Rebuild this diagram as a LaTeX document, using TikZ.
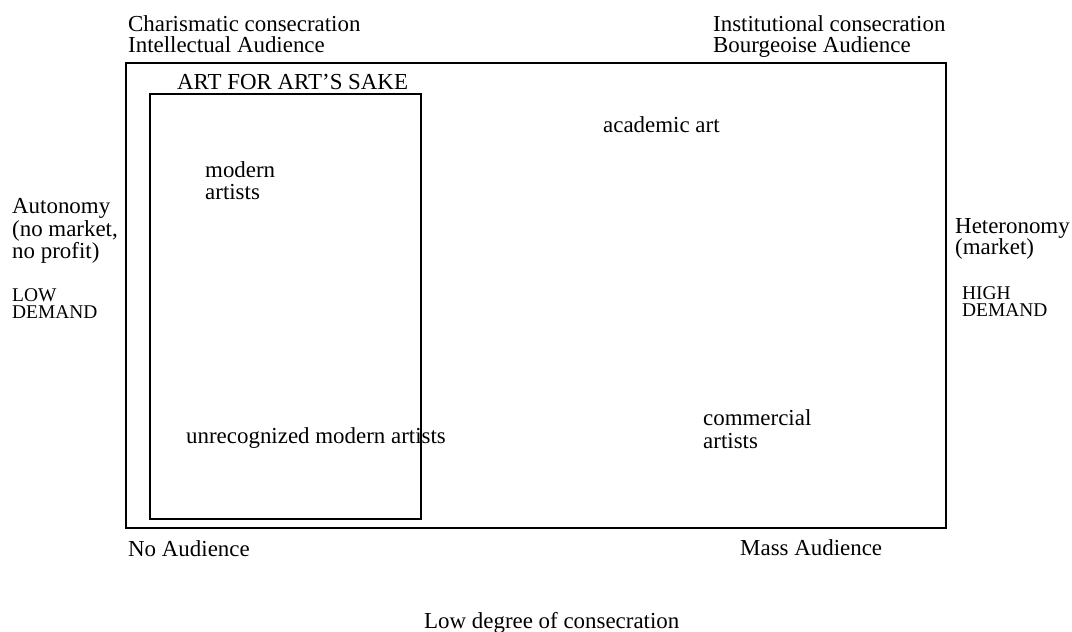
\documentclass[tikz,border=0pt]{standalone}
\usepackage{fontspec}
\setmainfont{Liberation Serif}
\newcommand{\lsk}[1]{\fontsize{23}{#1}\selectfont}
\newcommand{\ssk}[1]{\fontsize{19.5}{#1}\selectfont}
\begin{document}
\begin{tikzpicture}[x=1bp,y=-1bp,
  lbl/.style={anchor=base west,inner sep=0pt,align=left,font=\lsk{23}},
  small/.style={anchor=base west,inner sep=0pt,align=left,font=\ssk{18}},
  frame/.style={draw=black,line width=2.8bp}]
\useasboundingbox (0,0) rectangle (1072,632);
% text (multi-line nodes are anchored at the baseline of their last line)
\node[lbl,font=\lsk{21.5}] (cc) at (128,52.5) {Charismatic consecration\\Intellectual Audience};
\node[lbl,font=\lsk{21.5}] (ic) at (713,52.5) {Institutional consecration\\Bourgeoise Audience};
\node[lbl] (afa) at (177,90) {ART FOR ART'S SAKE};
\node[lbl] (aca) at (603,133) {academic art};
\node[lbl] (mod) at (205,200) {modern\\artists};
\node[lbl,font=\lsk{23}] (aut) at (12,259) {Autonomy\\(no market,\\no profit)};
\node[small,font=\ssk{17.5}] (lowd) at (12,319) {LOW\\DEMAND};
\node[lbl,font=\lsk{20.5}] (het) at (955,255) {Heteronomy\\(market)};
\node[small] (highd) at (962,317) {HIGH\\DEMAND};
\node[lbl] (unr) at (186,443) {unrecognized modern artists};
\node[lbl] (com) at (703,448) {commercial\\artists};
\node[lbl] (noa) at (128,556) {No Audience};
\node[lbl] (mass) at (740,555) {Mass Audience};
\node[lbl] (low) at (424,628) {Low degree of consecration};
% frames
\draw[frame] (126,63) rectangle (946,528);
\draw[frame] (150,94) rectangle (421,519);
\end{tikzpicture}
\end{document}
